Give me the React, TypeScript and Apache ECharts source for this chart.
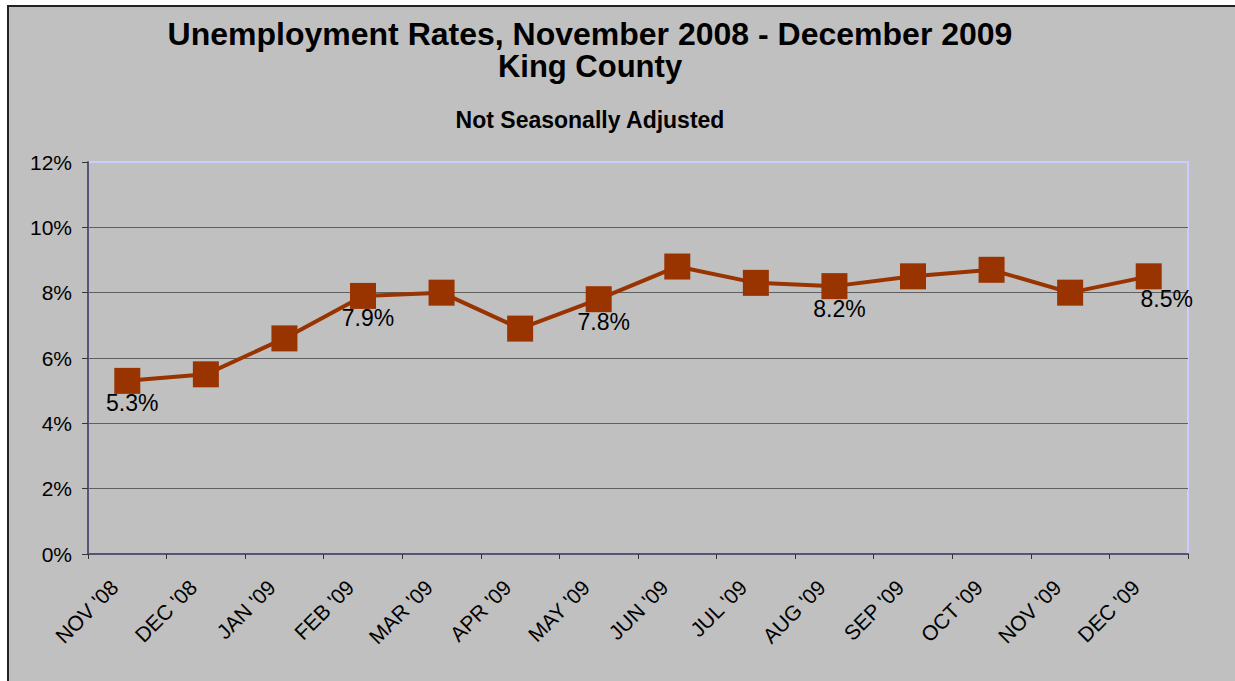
import React, { useEffect, useRef } from 'react';
import * as echarts from 'echarts';

const titleLine1 = 'Unemployment Rates, November 2008 - December 2009';
const titleLine2 = 'King County';
const subtitle = 'Not Seasonally Adjusted';

const categories = [
  "NOV '08", "DEC '08", "JAN '09", "FEB '09", "MAR '09", "APR '09", "MAY '09",
  "JUN '09", "JUL '09", "AUG '09", "SEP '09", "OCT '09", "NOV '09", "DEC '09",
];
const rates = [5.3, 5.5, 6.6, 7.9, 8.0, 6.9, 7.8, 8.8, 8.3, 8.2, 8.5, 8.7, 8.0, 8.5];
const labeledMonths = ["NOV '08", "FEB '09", "MAY '09", "AUG '09", "DEC '09"];

const yMin = 0;
const yMax = 12;
const yInterval = 2;

const FONT = 'Arial, "Liberation Sans", sans-serif';

export default function App() {
  const ref = useRef<HTMLDivElement>(null);
  useEffect(() => {
    const chart = echarts.init(ref.current!, null, { renderer: 'svg' });
    const labelOffsetX: Record<string, number> = { "DEC '09": 18 };
    const option: any = {
      animation: false,
      backgroundColor: 'transparent',
      textStyle: { fontFamily: FONT },
      title: [
        { text: titleLine1, left: 590, top: 18, textAlign: 'center', padding: 0,
          textStyle: { fontSize: 32, lineHeight: 32, fontWeight: 'bold', color: '#000', fontFamily: FONT } },
        { text: titleLine2, left: 590, top: 51, textAlign: 'center', padding: 0,
          textStyle: { fontSize: 31, lineHeight: 31, fontWeight: 'bold', color: '#000', fontFamily: FONT } },
        { text: subtitle, left: 590, top: 108, textAlign: 'center', padding: 0,
          textStyle: { fontSize: 23, lineHeight: 23, fontWeight: 'bold', color: '#000', fontFamily: FONT } },
      ],
      grid: {
        left: 88, right: 47, top: 162, bottom: 127,
        show: true, borderColor: '#ccccff', borderWidth: 2, backgroundColor: 'transparent',
        containLabel: false, outerBoundsMode: 'none',
      },
      xAxis: {
        type: 'category',
        data: categories,
        boundaryGap: true,
        axisLine: { show: true, lineStyle: { color: '#55557a', width: 2 } },
        axisTick: { show: true, length: 5, lineStyle: { color: '#333' } },
        axisLabel: {
          interval: 0, rotate: 45, fontSize: 21, color: '#000', margin: 17,
          padding: [0, 18, 0, 0], fontFamily: FONT,
        },
        splitLine: { show: false },
      },
      yAxis: {
        type: 'value',
        min: yMin, max: yMax, interval: yInterval,
        axisLine: { show: true, lineStyle: { color: '#55557a', width: 2 } },
        axisTick: { show: true, length: 6, lineStyle: { color: '#333' } },
        axisLabel: { formatter: '{value}%', fontSize: 21, color: '#000', margin: 16, fontFamily: FONT },
        splitLine: {
          show: true,
          lineStyle: {
            color: ['#55557a', '#606060', '#606060', '#606060', '#606060', '#606060', '#ccccff'],
            width: 1,
          },
        },
      },
      series: [
        {
          type: 'line',
          data: rates.map((v, i) =>
            labeledMonths.includes(categories[i])
              ? { value: v, label: { show: true, offset: [labelOffsetX[categories[i]] ?? 5, 0] } }
              : v
          ),
          symbol: 'rect',
          symbolSize: 26,
          lineStyle: { color: '#993300', width: 4 },
          itemStyle: { color: '#993300' },
          label: {
            show: false,
            position: 'bottom',
            distance: -2,
            fontSize: 23,
            color: '#000',
            fontFamily: FONT,
            formatter: (p: any) => Number(p.value).toFixed(1) + '%',
          },
        },
      ],
    };
    chart.setOption(option);
    return () => chart.dispose();
  }, []);
  return (
    <div style={{ position: 'fixed', left: 0, top: 0, width: '100vw', height: '100vh', background: '#fff', overflow: 'hidden' }}>
      <div style={{ position: 'absolute', left: 7, top: 5, right: -20, bottom: -20, background: '#c0c0c0', borderLeft: '2px solid #222', borderTop: '2px solid #222' }} />
      <div ref={ref} style={{ position: 'absolute', left: 0, top: 0, width: 1235, height: 681 }} />
    </div>
  );
}
